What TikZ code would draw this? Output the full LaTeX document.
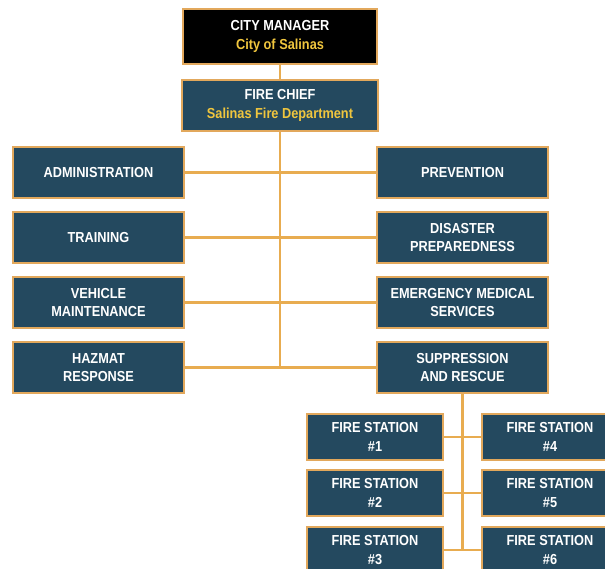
\documentclass[tikz,border=0pt]{standalone}
\usepackage{fontspec}
\setmainfont{Liberation Sans}[FakeStretch=0.88]
\definecolor{boxfill}{RGB}{36,73,95}
\definecolor{boxedge}{RGB}{226,168,92}
\definecolor{wirecol}{RGB}{232,172,80}
\definecolor{gold}{RGB}{240,198,62}
\tikzset{
  unit/.style={draw=boxedge, fill=boxfill, line width=2pt, inner sep=0pt,
    minimum width=171pt, minimum height=51pt, align=center, text=white,
    font=\fontsize{14.5}{18.3}\selectfont\bfseries},
  station/.style={unit, minimum width=136pt, minimum height=46pt},
  link/.style={draw=wirecol, line width=2.2pt}
}
\begin{document}
\begin{tikzpicture}[x=1pt,y=-1pt]
        \useasboundingbox (0,0) rectangle (605,569);

        \begin{scope}[every node/.style={unit}]
          \node[fill=black, minimum width=194pt, minimum height=55pt] (mgr) at (280,36.5)
            {CITY MANAGER\\\textcolor{gold}{City of Salinas}};
          \node[minimum width=196pt] (chief) at (280,105.5)
            {FIRE CHIEF\\\textcolor{gold}{Salinas Fire Department}};
          \node (admin)  at (98.5,172.5)  {ADMINISTRATION};
          \node (train)  at (98.5,237.5)  {TRAINING};
          \node (veh)    at (98.5,302.5)  {VEHICLE\\MAINTENANCE};
          \node (hazmat) at (98.5,367.5)  {HAZMAT\\RESPONSE};
          \node (prev)   at (462.5,172.5) {PREVENTION};
          \node (dis)    at (462.5,237.5) {DISASTER\\PREPAREDNESS};
          \node (ems)    at (462.5,302.5) {EMERGENCY MEDICAL\\SERVICES};
          \node (supp)   at (462.5,367.5) {SUPPRESSION\\AND RESCUE};
        \end{scope}

        \begin{scope}[every node/.style={station}]
          \node (st1) at (375,437) {FIRE STATION\\\#1};
          \node (st2) at (375,493) {FIRE STATION\\\#2};
          \node (st3) at (375,550) {FIRE STATION\\\#3};
          \node (st4) at (550,437) {FIRE STATION\\\#4};
          \node (st5) at (550,493) {FIRE STATION\\\#5};
          \node (st6) at (550,550) {FIRE STATION\\\#6};
        \end{scope}

        \coordinate (trunk) at (chief.south |- hazmat.east);
        \coordinate (branch) at (supp.south |- st3.east);

        \path[link] (mgr.south) -- (chief.north);
        \path[link] (chief.south) -- (trunk);
        \path[link] (admin.east) -- (prev.west);
        \path[link] (train.east) -- (dis.west);
        \path[link] (veh.east) -- (ems.west);
        \path[link] (hazmat.east) -- (supp.west);
        \path[link] (supp.south) -- (branch);
        \path[link] (st1.east) -- (st4.west);
        \path[link] (st2.east) -- (st5.west);
        \path[link] (st3.east) -- (st6.west);

      \end{tikzpicture}
\end{document}
